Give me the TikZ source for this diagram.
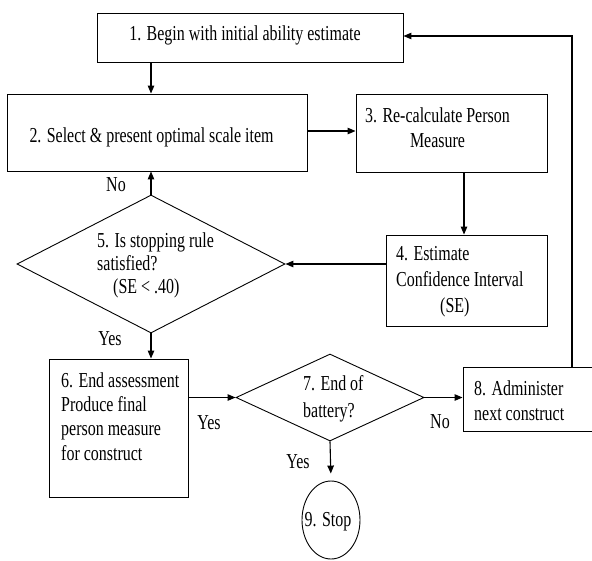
\documentclass[tikz,border=0pt]{standalone}
\usepackage{fontspec}
\setmainfont{Liberation Serif}[FakeStretch=0.75]
\usepackage{tikz}
\usetikzlibrary{shapes.geometric, arrows.meta}

\begin{document}
\begin{tikzpicture}[x=1pt, y=-1pt,
  box/.style={draw, rectangle, line width=0.9pt, inner sep=0pt},
  dec/.style={draw, diamond, line width=0.9pt, inner sep=0pt},
  term/.style={draw, ellipse, line width=0.9pt, inner sep=0pt},
  txt/.style={inner sep=0pt, font=\fontsize{21.3}{25}\selectfont},
  arr/.style={-{Triangle[length=8pt, width=6.5pt]}, line width=1.1pt}]
\useasboundingbox (0,0) rectangle (592,560);

% Kaesten und Rauten
\node[box, minimum width=306pt, minimum height=49pt] (begin) at (250,37.5) {};
\node[box, minimum width=300pt, minimum height=77pt] (select) at (157,132.5) {};
\node[box, minimum width=191pt, minimum height=78pt] (recalc) at (451.5,133) {};
\node[box, minimum width=161pt, minimum height=91pt] (conf) at (466.5,280.5) {};
\node[dec, minimum width=268pt, minimum height=138pt] (rule) at (151,264) {};
\node[box, minimum width=139pt, minimum height=138pt] (endas) at (118.5,428) {};
\node[dec, minimum width=188pt, minimum height=87pt] (battery) at (330,397.5) {};
\node[box, minimum width=140pt, minimum height=64pt] (next) at (533,399) {};
\node[term, minimum width=58pt, minimum height=78pt] (stop) at (331,520) {};
\coordinate (back) at (572,36);

% Texte
\node[txt] (t1) at (245,35) {1. Begin with initial ability estimate};
\node[txt] (t2) at (151.5,137) {2. Select \& present optimal scale item};
\node[txt, align=center] (t3) at (437.5,127.5) {3. Re-calculate Person\\Measure};
\node[txt, align=left, anchor=west, font=\fontsize{21.3}{26}\selectfont] (t4) at (396,282)
  {4. Estimate\\Confidence Interval\\\hspace*{44pt}(SE)};
\node[txt, align=left, anchor=west, font=\fontsize{21.3}{23}\selectfont] (t5) at (97,265)
  {5. Is stopping rule\\satisfied?\\\hspace*{16pt}(SE < .40)};
\node[txt, align=left, anchor=west, font=\fontsize{21.3}{24.3}\selectfont] (t6) at (61,416.5)
  {6. End assessment\\Produce final\\person measure\\for construct};
\node[txt, align=left, anchor=west, font=\fontsize{21.3}{27}\selectfont] (t7) at (303,398.5)
  {7. End of\\battery?};
\node[txt, align=left, anchor=west] (t8) at (474,400.5) {8. Administer\\next construct};
\node[txt] (t9) at (328,522) {9. Stop};

% Pfeile
\draw[arr] (begin.south -| rule.north) -- (select.north -| rule.north);
\draw[arr] (select.east |- 0,131) -- (recalc.west |- 0,131);
\draw[arr] (recalc.south -| 464,0) -- (conf.north -| 464,0);
\draw[arr] (conf.west |- rule.east) -- (rule.east);
\draw[arr] (rule.north) -- (select.south -| rule.north);
\draw[arr] (rule.south) -- (endas.north -| rule.south);
\draw[arr] (endas.east |- battery.west) -- (battery.west);
\draw[arr] (battery.east) -- (next.west |- battery.east);
\draw[arr, shorten >=7pt] (battery.south) -- (stop.north);
\draw[arr] (next.north -| back) -- (back) -- (begin.east |- back);

% Ja / Nein
\node[txt] (no1) at (116,185) {No};
\node[txt] (yes1) at (110,339) {Yes};
\node[txt] (yes2) at (209,423) {Yes};
\node[txt] (no2) at (440,422) {No};
\node[txt] (yes3) at (298,462) {Yes};
\end{tikzpicture}
\end{document}
